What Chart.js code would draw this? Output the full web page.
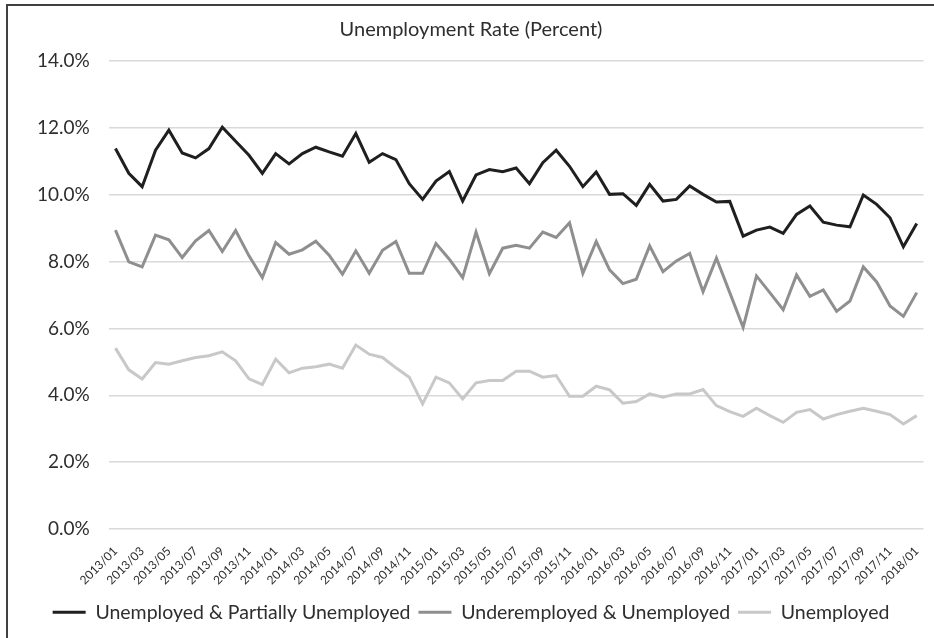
<!DOCTYPE html>
<html lang="en">
<head>
    <meta charset="UTF-8">
    <title>Unemployment Rate</title>
    <style>
        body { margin: 0; background: #fff; }
        #frame {
            position: absolute; left: 6px; top: 4px; width: 940px; height: 650px;
            border-left: 2px solid #404040; border-top: 2px solid #404040;
            pointer-events: none;
        }
        canvas { position: absolute; left: 0; top: 0; }
    </style>
</head>
<body>
    <script src="https://cdn.jsdelivr.net/npm/chart.js@4/dist/chart.umd.min.js"></script>
    <canvas id="chart" width="934" height="638"></canvas>
    <div id="frame"></div>

    <script>
        // monthly, 2013/01 .. 2018/01
        let months = [];
        for (let y = 2013; y <= 2018; y++) {
            for (let m = 1; m <= 12; m++) {
                if (y === 2018 && m > 1) break;
                months.push(y + "/" + String(m).padStart(2, "0"));
            }
        }

        const partial = [11.38, 10.64, 10.24, 11.33, 11.93, 11.25, 11.10, 11.38, 12.02, 11.60, 11.18, 10.64, 11.23, 10.92, 11.23, 11.42, 11.28, 11.15, 11.83, 10.97, 11.23, 11.05, 10.33, 9.86, 10.41, 10.69, 9.81, 10.59, 10.75, 10.69, 10.80, 10.33, 10.96, 11.33, 10.85, 10.24, 10.68, 10.01, 10.03, 9.68, 10.31, 9.81, 9.86, 10.26, 10.01, 9.78, 9.80, 8.76, 8.94, 9.03, 8.84, 9.41, 9.66, 9.18, 9.09, 9.04, 9.99, 9.71, 9.31, 8.44, 9.14];
        const underemployed = [8.94, 7.99, 7.84, 8.79, 8.65, 8.12, 8.62, 8.93, 8.30, 8.93, 8.17, 7.52, 8.57, 8.22, 8.35, 8.61, 8.19, 7.62, 8.32, 7.65, 8.34, 8.60, 7.65, 7.65, 8.54, 8.07, 7.52, 8.88, 7.64, 8.40, 8.49, 8.40, 8.88, 8.72, 9.16, 7.65, 8.60, 7.75, 7.34, 7.47, 8.47, 7.70, 8.02, 8.24, 7.10, 8.10, 7.07, 6.03, 7.57, 7.07, 6.56, 7.60, 6.96, 7.15, 6.51, 6.82, 7.84, 7.39, 6.67, 6.36, 7.07];
        const unemployed = [5.41, 4.76, 4.49, 4.98, 4.93, 5.03, 5.13, 5.18, 5.30, 5.03, 4.49, 4.32, 5.08, 4.67, 4.81, 4.85, 4.93, 4.81, 5.50, 5.23, 5.13, 4.82, 4.54, 3.74, 4.54, 4.37, 3.89, 4.37, 4.44, 4.44, 4.72, 4.72, 4.54, 4.59, 3.97, 3.97, 4.27, 4.16, 3.76, 3.81, 4.04, 3.94, 4.04, 4.04, 4.17, 3.69, 3.51, 3.37, 3.61, 3.39, 3.19, 3.49, 3.57, 3.29, 3.42, 3.52, 3.61, 3.52, 3.42, 3.14, 3.39];

        const seriesNames = ["Unemployed & Partially Unemployed", "Underemployed & Unemployed", "Unemployed"];
        const seriesColors = ["#1f1f1f", "#8f8f8f", "#c8c8c8"];

        const font = "Lato, 'Open Sans', sans-serif";
        const textColor = "#2e2e2e";

        const ctx = document.getElementById("chart");

        new Chart(ctx, {
            type: 'line',
            data: {
                labels: months,
                datasets: [partial, underemployed, unemployed].map((d, i) => ({
                    label: seriesNames[i],
                    data: d,
                    borderColor: seriesColors[i],
                    backgroundColor: seriesColors[i],
                    borderWidth: 3,
                    pointRadius: 0,
                    tension: 0
                }))
            },
            options: {
                responsive: false,
                devicePixelRatio: 1,
                animation: false,
                layout: { padding: { left: 18, right: 10, top: 10, bottom: 6 } },
                plugins: {
                    title: {
                        display: true,
                        text: "Unemployment Rate (Percent)",
                        color: textColor,
                        font: { family: font, size: 20, weight: 'normal' },
                        padding: { top: 8, bottom: 19 }
                    },
                    legend: {
                        position: 'bottom',
                        labels: {
                            usePointStyle: true,
                            pointStyle: 'line',
                            pointStyleWidth: 33,
                            boxWidth: 33,
                            padding: 8,
                            color: textColor,
                            font: { family: font, size: 19.5 }
                        }
                    },
                    tooltip: { enabled: false }
                },
                scales: {
                    x: {
                        offset: true,
                        grid: { display: false },
                        border: { display: false },
                        ticks: {
                            autoSkip: false,
                            minRotation: 45,
                            maxRotation: 45,
                            padding: 7,
                            color: textColor,
                            font: { family: font, size: 12 },
                            callback: function (v, i) { return i % 2 === 0 ? months[i] : ""; }
                        }
                    },
                    y: {
                        min: 0,
                        max: 14,
                        border: { display: false },
                        grid: { color: "#d9d9d9", lineWidth: 1.5, drawTicks: false },
                        ticks: {
                            stepSize: 2,
                            padding: 19,
                            color: textColor,
                            font: { family: font, size: 19 },
                            callback: v => v.toFixed(1) + "%"
                        }
                    }
                }
            }
        });
    </script>
</body>
</html>
